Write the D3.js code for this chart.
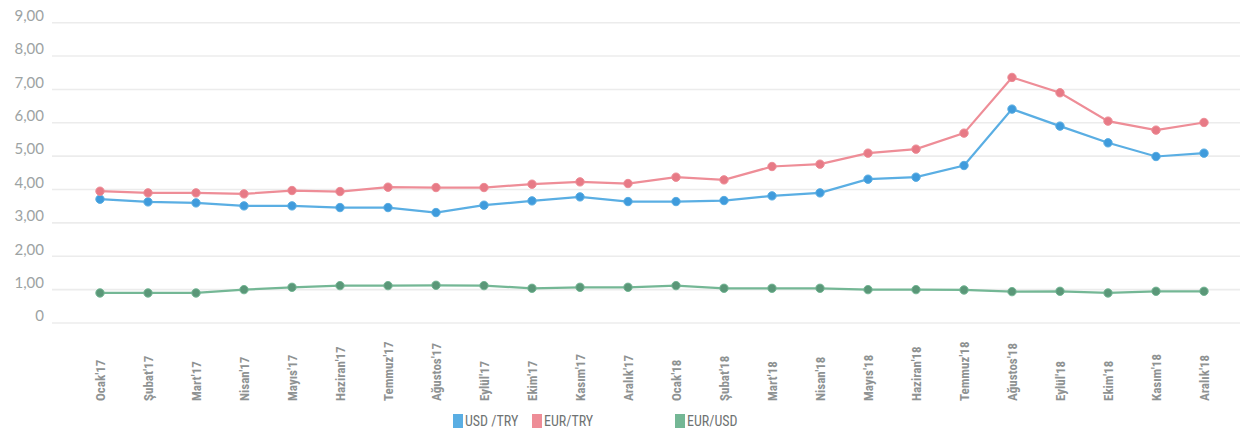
<!DOCTYPE html>
<html>
<head>
<meta charset="utf-8">
<script src="https://cdn.jsdelivr.net/npm/d3@7"></script>
<style>
  body { margin: 0; background: #fff; }
  svg { display: block; }
  .y.axis text { font-family: Lato, "Open Sans", sans-serif; font-size: 15px; fill: #9da3a3; }
  .x.axis text { font-family: "Liberation Sans Narrow", "Roboto", sans-serif; font-stretch: condensed; font-size: 13px; font-weight: bold; fill: #8e9292; }
  .legend text { font-family: "Liberation Sans Narrow", "Roboto", sans-serif; font-stretch: condensed; font-size: 14px; fill: #6f7373; }
</style>
</head>
<body>
<div id="graphic"></div>
<script>
// months on the x axis
const months = ["Ocak'17", "Şubat'17", "Mart'17", "Nisan'17", "Mayıs'17", "Haziran'17", "Temmuz'17", "Ağustos'17",
  "Eylül'17", "Ekim'17", "Kasım'17", "Aralık'17", "Ocak'18", "Şubat'18", "Mart'18", "Nisan'18", "Mayıs'18",
  "Haziran'18", "Temmuz'18", "Ağustos'18", "Eylül'18", "Ekim'18", "Kasım'18", "Aralık'18"];

const usdTry = [3.71, 3.63, 3.60, 3.51, 3.51, 3.46, 3.46, 3.31, 3.53, 3.66, 3.78, 3.64,
  3.64, 3.67, 3.81, 3.90, 4.31, 4.37, 4.72, 6.41, 5.90, 5.40, 4.99, 5.09];
const eurTry = [3.95, 3.90, 3.90, 3.87, 3.97, 3.94, 4.07, 4.06, 4.06, 4.16, 4.23, 4.18,
  4.37, 4.29, 4.69, 4.76, 5.09, 5.21, 5.69, 7.36, 6.90, 6.05, 5.78, 6.01];
const eurUsd = [0.90, 0.90, 0.90, 1.00, 1.07, 1.12, 1.12, 1.13, 1.12, 1.04, 1.07, 1.07,
  1.12, 1.04, 1.04, 1.04, 1.00, 1.00, 0.99, 0.94, 0.95, 0.90, 0.95, 0.95];

const yTicks = [0, 1, 2, 3, 4, 5, 6, 7, 8, 9];
const seriesNames = ["USD /TRY", "EUR/TRY", "EUR/USD"];

const series = [
  { name: seriesNames[0], values: usdTry, line: "#5aaee3", dot: "#3f9bdc" },
  { name: seriesNames[1], values: eurTry, line: "#ee8d97", dot: "#e77a86" },
  { name: seriesNames[2], values: eurUsd, line: "#74b795", dot: "#5a9778" }
];

const width = 1250, height = 436;
const svg = d3.select('#graphic').append('svg')
  .attr('width', width).attr('height', height);

const x = d3.scalePoint().domain(months).range([100, 1204]);
const y = d3.scaleLinear().domain([0, 9]).range([323, 22.7]);

// gridlines
svg.append('g').attr('class', 'grid')
  .selectAll('line').data(yTicks).join('line')
  .attr('x1', 52).attr('x2', 1240)
  .attr('y1', d => y(d)).attr('y2', d => y(d))
  .attr('stroke', '#ececec').attr('stroke-width', 1.6);

// y axis labels
const fmt = d => d === 0 ? "0" : d3.format(".2f")(d).replace('.', ',');
svg.append('g').attr('class', 'y axis')
  .attr('transform', 'translate(44,-7)')
  .call(d3.axisLeft(y).tickValues(yTicks).tickFormat(fmt).tickSize(0).tickPadding(0))
  .call(g => g.select('.domain').remove());

// x axis labels, rotated
svg.append('g').attr('class', 'x axis')
  .attr('transform', 'translate(0,401)')
  .call(d3.axisBottom(x).tickSize(0))
  .call(g => g.select('.domain').remove())
  .selectAll('text')
  .attr('transform', 'rotate(-90)')
  .attr('text-anchor', 'start')
  .attr('x', 0).attr('y', 0).attr('dy', '0.35em');

// lines and dots
const line = d3.line().x((d, i) => x(months[i])).y(d => y(d));

series.forEach(s => {
  const g = svg.append('g');
  g.append('path')
    .attr('d', line(s.values))
    .attr('fill', 'none')
    .attr('stroke', s.line)
    .attr('stroke-width', 2.2);
  g.selectAll('circle').data(s.values).join('circle')
    .attr('cx', (d, i) => x(months[i]))
    .attr('cy', d => y(d))
    .attr('r', 4.2)
    .attr('fill', s.dot)
    .attr('stroke', s.line).attr('stroke-width', 1);
});

// legend
const legendX = [453, 532, 675];
const legend = svg.append('g').attr('class', 'legend');
const items = legend.selectAll('g').data(series).join('g')
  .attr('transform', (d, i) => 'translate(' + legendX[i] + ',414)');
items.append('rect').attr('width', 10).attr('height', 14).attr('fill', d => d.line);
items.append('text').attr('x', 12).attr('y', 12).text(d => d.name);
</script>
</body>
</html>
